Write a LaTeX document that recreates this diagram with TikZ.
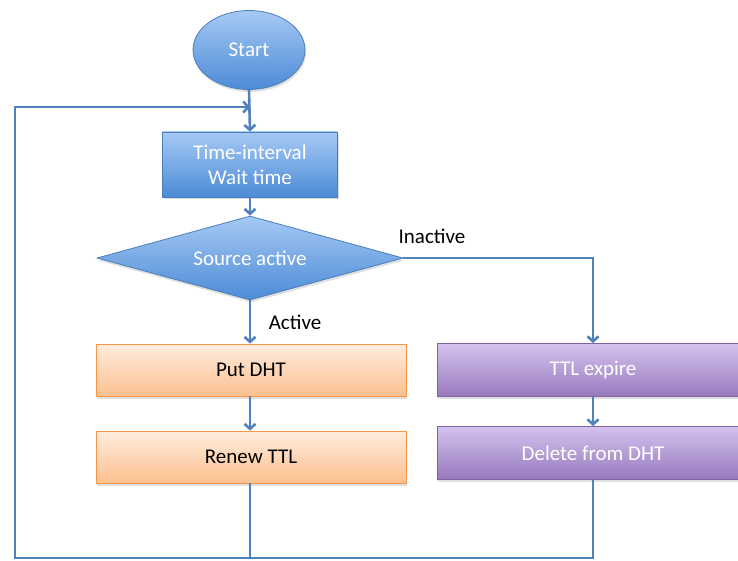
\documentclass[tikz,border=0pt]{standalone}
\usepackage{fontspec}
\setmainfont{Carlito}
\usetikzlibrary{shapes.geometric,arrows.meta,shadows}
\definecolor{conncol}{RGB}{79,129,189}
\definecolor{bluetop}{RGB}{166,201,245}
\definecolor{bluebot}{RGB}{76,139,214}
\definecolor{blueline}{RGB}{74,126,187}
\definecolor{orgtop}{RGB}{255,236,222}
\definecolor{orgbot}{RGB}{251,192,143}
\definecolor{orgline}{RGB}{247,150,70}
\definecolor{purtop}{RGB}{212,194,238}
\definecolor{purbot}{RGB}{151,121,189}
\definecolor{purline}{RGB}{128,100,162}
\begin{document}
\begin{tikzpicture}[x=1pt,y=-1pt,
  every node/.style={font=\fontsize{21}{25}\selectfont},
  shad/.style={drop shadow={opacity=0.25,shadow xshift=1pt,shadow yshift=-2.5pt}},
  blueshape/.style={shad,draw=blueline,line width=0.8pt,top color=bluetop,bottom color=bluebot,text=white,align=center,inner sep=0pt},
  ellip/.style={blueshape,ellipse,minimum width=112,minimum height=79},
  bluebox/.style={blueshape,rectangle,minimum width=175,minimum height=65},
  dia/.style={blueshape,diamond,aspect=3.64,minimum width=306,minimum height=84},
  orangebox/.style={shad,rectangle,draw=orgline,line width=0.8pt,top color=orgtop,bottom color=orgbot,text=black,minimum width=310,minimum height=52,inner sep=0pt},
  purplebox/.style={shad,rectangle,draw=purline,line width=0.8pt,top color=purtop,bottom color=purbot,text=white,minimum width=312,minimum height=53,inner sep=0pt},
  conn/.style={draw=conncol,line width=2.6pt},
  arr/.style={conn,-{Straight Barb[length=5pt,width=11pt]}},
  lbl/.style={text=black}
]
\useasboundingbox (0,0) rectangle (738,561);
\clip (0,0) rectangle (738,561);
\fill[white] (0,0) rectangle (738,561);

\coordinate (bl) at (15,558);
\coordinate (join) at (250,107);

% connectors drawn first (under nodes)
\draw[conn] (582,558) -- (bl);

\node[ellip] (start) at (249,50) {Start};
\node[bluebox] (wait) at (250,164.5) {Time-interval\\Wait time};
\node[dia] (src) at (250,258) {Source active};
\node[orangebox] (put) at (251,370) {Put DHT};
\node[orangebox] (renew) at (251,457) {Renew TTL};
\node[purplebox] (ttl) at (593,370) {TTL expire};
\node[purplebox] (del) at (593,453) {Delete from DHT};

\node[lbl] (inact) at (432,236) {Inactive};
\node[lbl] (act) at (295,322) {Active};

\draw[arr] (start.south) -- (wait.north);
\draw[arr] (wait.south) -- (src.north);
\draw[arr] (src.south) -- (src.south |- put.north);
\draw[arr] (put.south -| src.south) -- (src.south |- renew.north);
\draw[arr] (src.east) -| (ttl.north);
\draw[arr] (ttl.south) -- (del.north);
\draw[conn] (del.south) |- (bl);
\draw[arr] (renew.south -| src.south) |- (bl) |- (join);
\end{tikzpicture}
\end{document}
